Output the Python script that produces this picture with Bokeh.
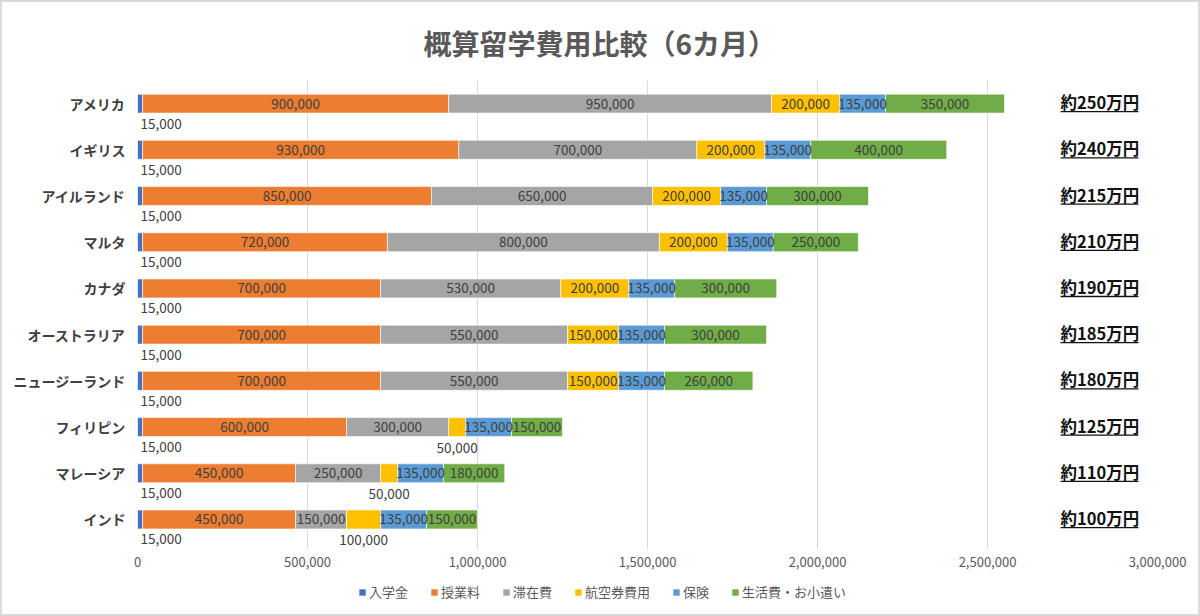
import numpy as np
from bokeh.plotting import figure
from bokeh.layouts import column
from bokeh.models import (ColumnDataSource, Legend, LegendItem, FixedTicker,
                          NumeralTickFormatter, Range1d)
from bokeh.core.properties import value
from bokeh.embed import file_html
from bokeh.resources import INLINE

countries = ["アメリカ", "イギリス", "アイルランド", "マルタ", "カナダ", "オーストラリア",
             "ニュージーランド", "フィリピン", "マレーシア", "インド"]
series_names = ["入学金", "授業料", "滞在費", "航空券費用", "保険", "生活費・お小遣い"]
entrance = [15000] * 10
tuition = [900000, 930000, 850000, 720000, 700000, 700000, 700000, 600000, 450000, 450000]
stay = [950000, 700000, 650000, 800000, 530000, 550000, 550000, 300000, 250000, 150000]
airfare = [200000, 200000, 200000, 200000, 200000, 150000, 150000, 50000, 50000, 100000]
insurance = [135000] * 10
living = [350000, 400000, 300000, 250000, 300000, 300000, 260000, 150000, 180000, 150000]
totals = ["約250万円", "約240万円", "約215万円", "約210万円", "約190万円", "約185万円",
          "約180万円", "約125万円", "約110万円", "約100万円"]
x_ticks = [0, 500000, 1000000, 1500000, 2000000, 2500000, 3000000]

colors = ["#4472C4", "#ED7D31", "#A5A5A5", "#FFC000", "#5B9BD5", "#70AD47"]
FONT = "Noto Sans CJK JP"
LABEL_COLOR = "#404040"

n = len(countries)
ypos = [n - 1 - j for j in range(n)]  # first country at the top

W, H_MAIN, H_LEG = 1200, 574, 42
p = figure(width=W, height=H_MAIN, output_backend="svg", toolbar_location=None,
           y_range=Range1d(-0.65, n - 0.5),
           x_range=Range1d(x_ticks[0], x_ticks[-1]),
           min_border_left=137, min_border_right=43, min_border_top=80, min_border_bottom=25)
p.border_fill_color = None
p.background_fill_color = None
p.title.text = "概算留学費用比較（6カ月）"
p.title.align = "left"
p.title.offset = 286
p.title.text_font = FONT
p.title.text_font_size = "28px"
p.title.text_font_style = "bold"
p.title.text_color = "#595959"
p.title.standoff = 36

p.outline_line_color = None
p.ygrid.grid_line_color = None
p.xgrid.grid_line_color = "#d9d9d9"
p.xaxis.ticker = FixedTicker(ticks=x_ticks)
p.xaxis.formatter = NumeralTickFormatter(format="0,0")
p.xaxis.axis_line_color = None
p.xaxis.major_tick_line_color = None
p.xaxis.minor_tick_line_color = None
p.xaxis.major_tick_out = 0
p.xaxis.major_label_text_font = FONT
p.xaxis.major_label_text_font_size = "13px"
p.xaxis.major_label_text_color = "#595959"
p.xaxis.major_label_standoff = 7
p.yaxis.ticker = FixedTicker(ticks=ypos)
p.yaxis.major_label_overrides = {y: c for y, c in zip(ypos, countries)}
p.yaxis.axis_line_color = None
p.yaxis.major_tick_line_color = None
p.yaxis.minor_tick_line_color = None
p.yaxis.major_tick_out = 0
p.yaxis.major_label_text_font = FONT
p.yaxis.major_label_text_font_size = "14px"
p.yaxis.major_label_text_font_style = "bold"
p.yaxis.major_label_text_color = LABEL_COLOR
p.yaxis.major_label_standoff = 12

all_series = [entrance, tuition, stay, airfare, insurance, living]
cum = np.zeros(n)
inside = dict(x=[], y=[], t=[])
below_c = dict(x=[], y=[], t=[])
below_l = dict(x=[], y=[], t=[])
for i, (name, vals) in enumerate(zip(series_names, all_series)):
    v = np.array(vals, dtype=float)
    left = cum.copy()
    right = cum + v
    src = ColumnDataSource(dict(y=ypos, left=left, right=right))
    p.hbar(y="y", left="left", right="right", height=0.41, source=src,
           fill_color=colors[i], line_color="white", line_width=0.6)
    for j in range(n):
        t = f"{int(vals[j]):,}"
        if i == 0:
            below_l["x"].append(left[j]); below_l["y"].append(ypos[j]); below_l["t"].append(t)
        elif vals[j] < 120000:
            below_c["x"].append((left[j] + right[j]) / 2); below_c["y"].append(ypos[j]); below_c["t"].append(t)
        else:
            inside["x"].append((left[j] + right[j]) / 2); inside["y"].append(ypos[j]); inside["t"].append(t)
    cum = right

common = dict(text_font=value(FONT), text_font_size="13.5px", text_color=LABEL_COLOR,
              text_baseline="middle")
p.text(x="x", y="y", text="t", source=ColumnDataSource(inside), text_align="center", **common)
p.text(x="x", y="y", text="t", source=ColumnDataSource(below_c), text_align="center",
       y_offset=21, **common)
p.text(x="x", y="y", text="t", source=ColumnDataSource(below_l), text_align="left",
       x_offset=3, y_offset=20, **common)

# totals on the right
TOTAL_X = 2715000
UNDER_LEN = 229000
tot_src = ColumnDataSource(dict(x=[TOTAL_X] * n, y=ypos, t=totals))
p.text(x="x", y="y", text="t", source=tot_src, text_align="left", text_baseline="middle",
       y_offset=-1.5, text_font=value(FONT), text_font_size="16.5px", text_font_style="bold",
       text_color="#111111")
ul_src = ColumnDataSource(dict(x0=[TOTAL_X] * n, x1=[TOTAL_X + UNDER_LEN] * n,
                               y=[y - 0.175 for y in ypos]))
p.segment(x0="x0", x1="x1", y0="y", y1="y", source=ul_src, line_color="#111111", line_width=1.3)

# legend strip below the chart
lf = figure(width=W, height=H_LEG, output_backend="svg", toolbar_location=None,
            x_axis_type=None, y_axis_type=None, min_border=0,
            x_range=Range1d(0, 1), y_range=Range1d(0, 1))
lf.border_fill_color = None
lf.background_fill_color = None
lf.outline_line_color = None
lf.xgrid.grid_line_color = None
lf.ygrid.grid_line_color = None
items = []
for name, c in zip(series_names, colors):
    # one placeholder bar kept outside the visible range; it only feeds the legend swatch
    r = lf.hbar(y=[-5], left=[0], right=[1], height=0.5, fill_color=c, line_color=None)
    items.append(LegendItem(label=name, renderers=[r]))
legend = Legend(items=items, orientation="horizontal", location=(221, 15),
                glyph_width=8, glyph_height=8, label_standoff=3, spacing=22, padding=0, margin=0,
                label_text_font=FONT, label_text_font_size="13px", label_text_color="#595959",
                border_line_color=None, background_fill_alpha=0)
lf.add_layout(legend, "center")

layout = column(p, lf, spacing=0,
                styles={"background-color": "white", "box-shadow": "inset 0 0 0 2px #d9d9d9"})
open("out.html", "w").write(file_html(layout, INLINE))
